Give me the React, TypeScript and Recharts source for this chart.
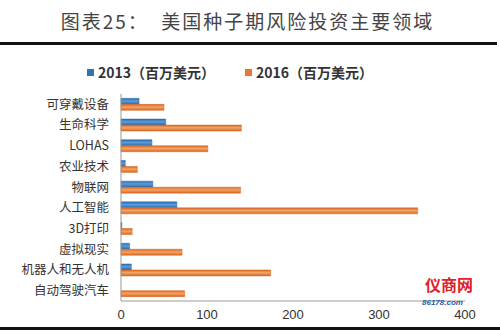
import { BarChart, Bar, XAxis, YAxis } from 'recharts'

const categories = ['可穿戴设备', '生命科学', 'LOHAS', '农业技术', '物联网', '人工智能', '3D打印', '虚拟现实', '机器人和无人机', '自动驾驶汽车']
const values2013 = [21, 52, 36, 5, 37, 65, 1, 10, 12, 0]
const values2016 = [50, 140, 101, 19, 139, 345, 13, 71, 174, 74]
const xTicks = [0, 100, 200, 300, 400]

const data = categories.map((name, i) => ({ name, y2013: values2013[i], y2016: values2016[i] }))

const cjk = '"Noto Sans CJK SC", "Noto Sans", sans-serif'

const legendItems = [
  { label: '2013（百万美元）', color: '#2E75B6' },
  { label: '2016（百万美元）', color: '#E57A33' },
]

export default function App() {
  return (
    <div style={{ position: 'relative', width: 500, height: 330, background: '#fff', overflow: 'hidden' }}>
      <style>{`body{margin:0}`}</style>
      <div
        style={{
          position: 'absolute',
          top: 7,
          left: 0,
          width: 495,
          textAlign: 'center',
          fontFamily: cjk,
          fontSize: 19,
          letterSpacing: 2,
          color: '#444',
        }}
      >
        图表25：&nbsp;&nbsp;美国种子期风险投资主要领域
      </div>
      <div style={{ position: 'absolute', top: 42, left: 0, width: 497, height: 3, background: '#111' }} />
      <div style={{ position: 'absolute', top: 327, left: 0, width: 500, height: 3, background: '#111' }} />
      <div
        style={{
          position: 'absolute',
          top: 63,
          left: 0,
          width: 460,
          display: 'flex',
          justifyContent: 'center',
          gap: 30,
          fontFamily: cjk,
          fontSize: 14,
          color: '#333',
          lineHeight: '18px',
        }}
      >
        {legendItems.map((it) => (
          <div key={it.label} style={{ display: 'flex', alignItems: 'center' }}>
            <span style={{ width: 7, height: 7, background: it.color, marginRight: 4, display: 'inline-block' }} />
            <span style={{ fontWeight: 600 }}>{it.label}</span>
          </div>
        ))}
      </div>
      <BarChart
        width={500}
        height={330}
        data={data}
        layout="vertical"
        margin={{ top: 94, right: 35, bottom: 0, left: 0 }}
        barCategoryGap="21%"
        barGap={0}
      >
        <defs>
          <linearGradient id="g2013" x1="0" y1="0" x2="0" y2="1">
            <stop offset="0%" stopColor="#2A6CAB" />
            <stop offset="45%" stopColor="#5B9BD8" />
            <stop offset="100%" stopColor="#2A6CAB" />
          </linearGradient>
          <linearGradient id="g2016" x1="0" y1="0" x2="0" y2="1">
            <stop offset="0%" stopColor="#D8661F" />
            <stop offset="45%" stopColor="#F3A46A" />
            <stop offset="100%" stopColor="#D8661F" />
          </linearGradient>
        </defs>
        <XAxis
          type="number"
          domain={[0, 400]}
          ticks={xTicks}
          height={29}
          tickSize={0}
          tickMargin={9}
          axisLine={{ stroke: '#999' }}
          tick={{ fontSize: 13, fill: '#333', fontFamily: 'Arial, sans-serif' }}
        />
        <YAxis
          type="category"
          dataKey="name"
          width={121}
          tickSize={0}
          tickMargin={12}
          axisLine={{ stroke: '#999' }}
          interval={0}
          tick={{ fontSize: 12.5, fill: '#333', fontFamily: cjk }}
        />
        <Bar dataKey="y2013" fill="url(#g2013)" stroke="#2A6CAB" strokeWidth={0.5} isAnimationActive={false} />
        <Bar dataKey="y2016" fill="url(#g2016)" stroke="#D8661F" strokeWidth={0.5} isAnimationActive={false} />
      </BarChart>
      <div
        style={{
          position: 'absolute',
          left: 425,
          top: 276,
          fontFamily: cjk,
          fontSize: 16,
          fontWeight: 700,
          color: '#E0202A',
          lineHeight: '16px',
        }}
      >
        仪商网
      </div>
      <div
        style={{
          position: 'absolute',
          left: 422,
          top: 298,
          fontSize: 8,
          lineHeight: '9px',
          fontStyle: 'italic',
          fontWeight: 700,
          color: '#2B5BA8',
          fontFamily: 'Arial, sans-serif',
        }}
      >
        86178.com
      </div>
    </div>
  )
}
